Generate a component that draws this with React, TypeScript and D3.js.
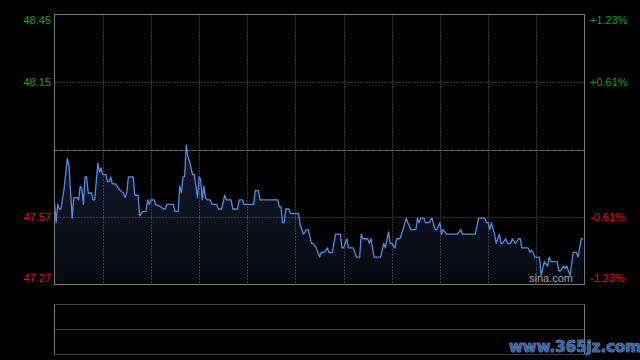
import React from "react";
import * as d3 from "d3";

const minutes = [0,1,2,3,4,6,8,9,11,12,14,15,16,17,18,19,20,21,23,24,25,27,28,29,30,32,33,34,35,36,38,40,41,43,44,45,46,49,50,52,53,55,57,58,59,60,62,63,66,68,69,70,74,75,77,78,79,80,81,82,83,84,86,87,88,89,90,91,92,93,94,95,97,98,101,102,104,106,107,110,111,114,115,117,118,124,125,127,128,139,140,141,142,143,144,146,147,152,153,154,155,157,158,160,161,163,164,165,166,168,170,171,173,175,178,179,180,182,183,186,188,190,191,192,195,196,197,199,203,205,206,208,209,210,212,213,215,216,217,219,220,222,225,226,227,228,230,231,233,235,237,238,240,241,242,244,248,251,253,254,262,264,268,269,270,271,272,274,275,277,278,279,281,282,284,285,287,289,290,291,295,296,297,298,299,302,303,305,307,308,309,313,314,315,317,318,319,321,323,325,326,328,329];

const prices = [47.63,47.54,47.62,47.60,47.60,47.69,47.82,47.79,47.56,47.65,47.65,47.64,47.70,47.69,47.62,47.74,47.74,47.67,47.67,47.64,47.64,47.80,47.76,47.78,47.75,47.75,47.72,47.72,47.74,47.71,47.71,47.69,47.68,47.67,47.65,47.67,47.74,47.74,47.66,47.66,47.57,47.59,47.59,47.64,47.62,47.64,47.64,47.62,47.61,47.60,47.60,47.62,47.62,47.59,47.59,47.70,47.67,47.74,47.74,47.88,47.83,47.81,47.75,47.75,47.70,47.65,47.74,47.73,47.64,47.70,47.65,47.64,47.64,47.62,47.62,47.60,47.60,47.66,47.64,47.64,47.60,47.60,47.64,47.64,47.62,47.62,47.68,47.68,47.64,47.64,47.61,47.61,47.54,47.54,47.60,47.60,47.58,47.58,47.53,47.51,47.49,47.51,47.51,47.45,47.45,47.43,47.41,47.39,47.41,47.41,47.43,47.41,47.41,47.49,47.49,47.43,47.43,47.47,47.43,47.43,47.39,47.39,47.49,47.47,47.47,47.45,47.47,47.39,47.39,47.45,47.43,47.50,47.45,47.45,47.43,47.47,47.47,47.49,47.51,47.56,47.54,47.51,47.51,47.56,47.54,47.56,47.56,47.54,47.54,47.56,47.51,47.51,47.54,47.49,47.51,47.49,47.49,47.49,47.51,47.49,47.49,47.56,47.56,47.54,47.54,47.51,47.54,47.49,47.45,47.49,47.45,47.45,47.47,47.45,47.45,47.47,47.45,47.47,47.47,47.43,47.43,47.41,47.42,47.41,47.39,47.39,47.31,47.37,47.35,47.39,47.37,47.37,47.33,47.33,47.35,47.34,47.35,47.31,47.41,47.41,47.39,47.47,47.47];

const prevClose = 47.86;
const priceMin = 47.27;
const priceMax = 48.45;
const totalMinutes = 330;
const gridMinutes = [30, 60, 90, 120, 150, 180, 210, 240, 270, 300];
const leftTickValues = [48.45, 48.155, 47.565, 47.27];
const leftTickLabels = ["48.45", "48.15", "47.57", "47.27"];
const rightTickLabels = ["+1.23%", "+0.61%", "-0.61%", "-1.23%"];
const tickUp = [true, true, false, false];

const W = 640, H = 360;
const L = 54.5, R = 584.5, T = 14.5, B = 284.5;
const subT = 304.5, subM = 329.5, subB = 354.5;

export default function App() {
  const x = d3.scaleLinear().domain([0, totalMinutes]).range([L, R]);
  const y = d3.scaleLinear().domain([priceMin, priceMax]).range([B, T]);
  const data = minutes.map((m, i) => ({ m, p: prices[i] }));
  const line = d3.line<any>().x(d => x(d.m)).y(d => y(d.p));
  const area = d3.area<any>().x(d => x(d.m)).y0(B).y1(d => y(d.p));
  const green = "#17a317";
  const red = "#e31414";
  const font = "Arial, 'Liberation Sans', sans-serif";
  const gridColor = "#6e6e6e";
  const topY = y(d3.max(prices) as number);

  return (
    <div style={{ position: "fixed", left: 0, top: 0, width: W, height: H, background: "#000" }}>
      <svg width={W} height={H} style={{ display: "block" }}>
        <defs>
          <linearGradient id="fillg" gradientUnits="userSpaceOnUse" x1="0" y1={topY} x2="0" y2={B}>
            <stop offset="0" stopColor="#111a2c" />
            <stop offset="1" stopColor="#07090f" />
          </linearGradient>
        </defs>
        <rect x={0} y={0} width={W} height={H} fill="#000" />
        <path d={area(data) || ""} fill="url(#fillg)" />
        {gridMinutes.map(g => (
          <line key={"v" + g} x1={Math.round(x(g)) + 0.5} x2={Math.round(x(g)) + 0.5} y1={T} y2={B}
            stroke={gridColor} strokeDasharray="1,2" />
        ))}
        {[leftTickValues[1], leftTickValues[2]].map(v => (
          <line key={"h" + v} x1={L} x2={R} y1={Math.round(y(v)) + 0.5} y2={Math.round(y(v)) + 0.5}
            stroke={gridColor} strokeDasharray="1,2" />
        ))}
        <line x1={L} x2={R} y1={Math.round(y(prevClose)) + 0.5} y2={Math.round(y(prevClose)) + 0.5}
          stroke="#8a8a8a" strokeDasharray="3,1,1,1" />
        <path d={line(data) || ""} fill="none" stroke="#4f8de4" strokeWidth={1.3} strokeLinejoin="round" />
        <rect x={L} y={T} width={R - L} height={B - T} fill="none" stroke="#7a7a7a" />
        {leftTickValues.map((v, i) => {
          const yy = i === 0 ? y(v) + 6 : i === 3 ? y(v) - 6 : y(v);
          return (
            <g key={"t" + i}>
              <text x={51} y={yy} dy="0.35em" textAnchor="end" fontFamily={font} fontSize={11}
                fill={tickUp[i] ? green : red}>{leftTickLabels[i]}</text>
              <text x={590} y={yy} dy="0.35em" textAnchor="start" fontFamily={font} fontSize={11}
                fill={tickUp[i] ? green : red}>{rightTickLabels[i]}</text>
            </g>
          );
        })}
        <text x={573} y={282} textAnchor="end" fontFamily={font} fontSize={11} fill="#a0a0a0">sina.com</text>
        {/* sub panel */}
        <line x1={L} x2={R} y1={subT} y2={subT} stroke="#808080" strokeDasharray="1,1" />
        <line x1={L} x2={R} y1={subM} y2={subM} stroke="#808080" strokeDasharray="1,1" />
        <line x1={L} x2={R} y1={subB} y2={subB} stroke="#808080" strokeDasharray="1,1" />
        <line x1={L} x2={L} y1={subT} y2={subB} stroke="#7a7a7a" />
        <line x1={R} x2={R} y1={subT} y2={subB} stroke="#7a7a7a" />
        <text x={575} y={352} textAnchor="middle" fontFamily="Verdana, 'DejaVu Sans', sans-serif" fontWeight="bold"
          fontSize={15} fill="#3565b0" stroke="#b8cbe8" strokeWidth={0.6} paintOrder="stroke">www.365jz.com</text>
      </svg>
    </div>
  );
}
